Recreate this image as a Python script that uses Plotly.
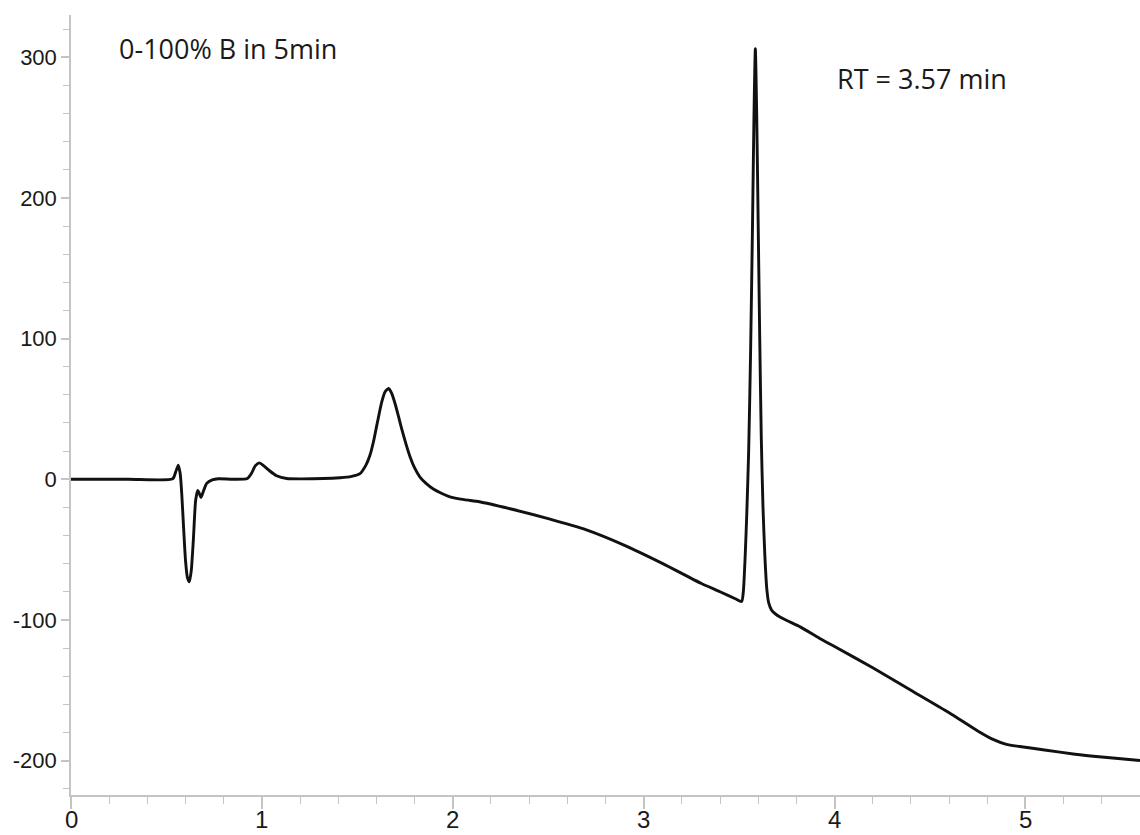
import plotly.graph_objects as go

# Retention time (min)
time_min = [
    0.00, 0.30, 0.533, 0.548, 0.562, 0.572, 0.580, 0.590, 0.600, 0.610, 0.620, 0.630,
    0.641, 0.653, 0.664, 0.672, 0.681, 0.695, 0.711, 0.740, 0.772, 0.850, 0.924, 0.945,
    0.965, 0.986, 1.010, 1.040, 1.077, 1.130, 1.200, 1.410, 1.470, 1.514, 1.545, 1.566,
    1.585, 1.600, 1.615, 1.628, 1.645, 1.664, 1.680, 1.697, 1.715, 1.732, 1.755, 1.776,
    1.800, 1.828, 1.860, 1.898, 1.940, 1.985, 2.060, 2.140, 2.300, 2.500, 2.700, 2.900,
    3.100, 3.300, 3.400, 3.480, 3.513, 3.522, 3.531, 3.540, 3.550, 3.560, 3.570, 3.578,
    3.585, 3.592, 3.600, 3.608, 3.616, 3.625, 3.635, 3.645, 3.655, 3.670, 3.714, 3.820,
    3.920, 4.000, 4.200, 4.400, 4.600, 4.750, 4.830, 4.900, 4.970, 5.100, 5.260, 5.400,
    5.600,
]

# Detector signal (mAU)
signal = [
    0.0, 0.0, 0.3, 5.0, 10.0, 4.0, -10.0, -35.0, -58.0, -70.0, -73.0, -65.0,
    -43.0, -15.0, -8.0, -10.0, -13.0, -8.0, -3.0, -0.5, 0.3, 0.0, 0.5, 4.0,
    9.5, 11.6, 9.5, 6.0, 2.5, 0.5, 0.2, 1.0, 2.0, 4.0, 10.0, 17.0,
    27.0, 37.0, 47.0, 55.0, 62.0, 64.5, 61.0, 54.0, 45.0, 36.0, 25.0, 16.0,
    8.0, 1.5, -3.0, -7.0, -10.0, -12.5, -14.5, -16.0, -21.0, -28.0, -36.0, -47.0,
    -60.0, -74.0, -80.0, -85.0, -87.0, -80.0, -57.0, -25.0, 20.0, 90.0, 180.0, 260.0,
    306.0, 260.0, 180.0, 100.0, 30.0, -20.0, -55.0, -78.0, -88.0, -93.0, -98.0, -105.0,
    -113.0, -119.0, -134.0, -150.0, -166.0, -179.0, -185.0, -188.5, -190.0, -192.5, -195.5, -197.5,
    -200.0,
]

x_tick_vals = [0, 1, 2, 3, 4, 5]
y_tick_vals = [-200, -100, 0, 100, 200, 300]

method_label = "0-100% B in 5min"
rt_label = "RT = 3.57 min"

fig = go.Figure()
fig.add_trace(go.Scatter(
    x=time_min, y=signal, mode="lines",
    line=dict(color="#111111", width=2.9, shape="spline", smoothing=0.6),
    showlegend=False, hoverinfo="skip",
))

axis_col = "#c4c4c4"
text_col = "#1a1a1a"

# x tick labels drawn as annotations so they sit close under the long ticks
x_label_annots = [
    dict(text=str(v), x=v, xref="x", y=0, yref="paper", xanchor="center", yanchor="top",
         yshift=-9, showarrow=False,
         font=dict(family="Liberation Sans, Arial, sans-serif", size=24, color=text_col))
    for v in x_tick_vals
]

fig.update_layout(
    width=1140, height=835,
    margin=dict(l=71, r=0, t=15, b=40),
    paper_bgcolor="white", plot_bgcolor="white",
    font=dict(family="Liberation Sans, Arial, sans-serif", size=21, color=text_col),
    xaxis=dict(
        range=[0, 5.6], tickvals=x_tick_vals, showticklabels=False,
        showgrid=False, zeroline=False, showline=True, linecolor=axis_col, linewidth=1.5,
        ticks="outside", ticklen=12, tickwidth=1.5, tickcolor=axis_col,
        minor=dict(dtick=0.2, ticks="outside", ticklen=7, tickwidth=1.2, tickcolor=axis_col),
        automargin=False,
    ),
    yaxis=dict(
        range=[-224.5, 330], tickvals=y_tick_vals, ticktext=[str(v) for v in y_tick_vals],
        showgrid=False, zeroline=False, showline=True, linecolor=axis_col, linewidth=1.5,
        ticks="outside", ticklen=8, tickwidth=1.5, tickcolor=axis_col,
        minor=dict(dtick=20, tick0=0, ticks="outside", ticklen=6, tickwidth=1.2, tickcolor=axis_col),
        tickfont=dict(size=22, color=text_col),
        ticklabelstandoff=0, automargin=False,
    ),
    annotations=[
        dict(text=method_label, x=0.241, y=306, xref="x", yref="y",
             xanchor="left", yanchor="middle", showarrow=False,
             font=dict(family="Open Sans, sans-serif", size=27, color=text_col)),
        dict(text=rt_label, x=4.0, y=285, xref="x", yref="y",
             xanchor="left", yanchor="middle", showarrow=False,
             font=dict(family="Open Sans, sans-serif", size=27, color=text_col)),
    ] + x_label_annots,
)

fig.write_html("out.html")
